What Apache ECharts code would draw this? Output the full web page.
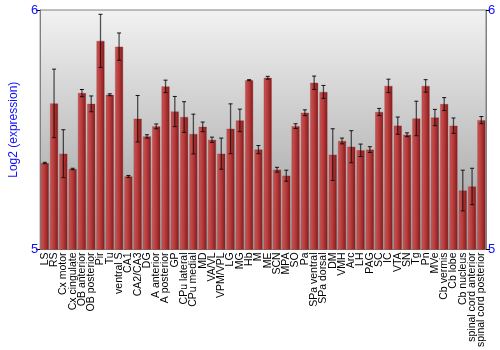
<!DOCTYPE html>
<html><head><meta charset="utf-8">
<script src="https://cdn.jsdelivr.net/npm/echarts@6/dist/echarts.min.js"></script>
<style>html,body{margin:0;padding:0;background:#fff}#c{width:500px;height:350px}</style>
</head><body><div id="c"></div>
<script>
var categories = ["LS","RS","Cx motor","Cx cingulate","OB anterior","OB posterior","Pir","Tu","ventral S","CA1","CA2/CA3","DG","A anterior","A posterior","GP","CPu lateral","CPu medial","MD","VA/VL","VPM/VPL","LG","MG","Hb","M","ME","SCN","MPA","SO","Pa","SPa ventral","SPa dorsal","DM","VMH","Arc","LH","PAG","SC","IC","VTA","SN","Tg","Pn","MVe","Cb vermis","Cb lobe","Cb nucleus","spinal cord anterior","spinal cord posterior"];
var values = [5.361,5.610,5.400,5.336,5.653,5.608,5.871,5.646,5.847,5.305,5.546,5.472,5.514,5.681,5.576,5.553,5.482,5.512,5.458,5.400,5.504,5.539,5.707,5.417,5.717,5.333,5.308,5.515,5.571,5.696,5.658,5.396,5.453,5.429,5.414,5.417,5.574,5.683,5.517,5.479,5.547,5.683,5.551,5.607,5.517,5.246,5.263,5.540];
var errors = [0.003,0.143,0.100,0.003,0.015,0.033,0.111,0.004,0.057,0.004,0.097,0.007,0.010,0.026,0.063,0.064,0.083,0.020,0.011,0.065,0.104,0.047,0.002,0.017,0.006,0.010,0.023,0.010,0.012,0.028,0.027,0.108,0.012,0.067,0.026,0.012,0.015,0.028,0.036,0.008,0.072,0.026,0.034,0.027,0.032,0.085,0.076,0.015];
var yTicks = [5, 6];

var chart = echarts.init(document.getElementById('c'));
var errData = values.map(function(v,i){return [i, v - errors[i], v + errors[i]];});
var blue = '#1010ff';
chart.setOption({
  animation:false,
  grid:{left:27,right:14,top:10,bottom:100,show:true,borderColor:'#808080',borderWidth:1,
    backgroundColor:new echarts.graphic.LinearGradient(0,0,0,1,[{offset:0,color:'#f2f2f2'},{offset:1,color:'#9c9c9c'}])},
  xAxis:{type:'category',data:categories,
    axisLine:{show:false},axisTick:{show:false},
    axisLabel:{interval:0,rotate:90,fontSize:10.5,color:'#000',fontFamily:'Liberation Sans, Arial',margin:3}},
  yAxis:[
    {type:'value',min:yTicks[0],max:yTicks[1],interval:1,position:'left',
     name:'Log2 (expression)',nameLocation:'middle',nameGap:19,nameTextStyle:{color:blue,fontSize:12,fontFamily:'Liberation Sans, Arial'},
     axisLine:{show:true,lineStyle:{color:'#808080'}},axisTick:{show:true,length:4,lineStyle:{color:'#000'}},
     splitLine:{show:false},
     axisLabel:{color:blue,fontSize:13,margin:2,fontFamily:'Liberation Sans, Arial'}},
    {type:'value',min:yTicks[0],max:yTicks[1],interval:1,position:'right',
     axisLine:{show:true,lineStyle:{color:'#808080'}},axisTick:{show:true,length:4,lineStyle:{color:'#000'}},
     splitLine:{show:false},
     axisLabel:{color:blue,fontSize:13,margin:2,fontFamily:'Liberation Sans, Arial'}}
  ],
  series:[
    {type:'bar',data:values,barCategoryGap:'14%',
     itemStyle:{color:new echarts.graphic.LinearGradient(0,0,1,0,[{offset:0,color:'#c85656'},{offset:0.45,color:'#b83c3c'},{offset:1,color:'#821a1a'}]),
       borderColor:'rgba(150,40,40,0.6)',borderWidth:0.5}},
    {type:'custom',data:errData,z:10,
     renderItem:function(params,api){
       var x=api.value(0);
       var lo=api.coord([x,api.value(1)]);
       var hi=api.coord([x,api.value(2)]);
       var cx=lo[0], w=2;
       return {type:'group',children:[
         {type:'line',shape:{x1:cx,y1:hi[1],x2:cx,y2:lo[1]},style:{stroke:'rgba(0,0,0,0.65)',lineWidth:1.3}},
         {type:'line',shape:{x1:cx-w,y1:hi[1],x2:cx+w,y2:hi[1]},style:{stroke:'#111',lineWidth:1}},
         {type:'line',shape:{x1:cx-w,y1:lo[1],x2:cx+w,y2:lo[1]},style:{stroke:'#111',lineWidth:1}}
       ]};
     }}
  ]
});
</script></body></html>
